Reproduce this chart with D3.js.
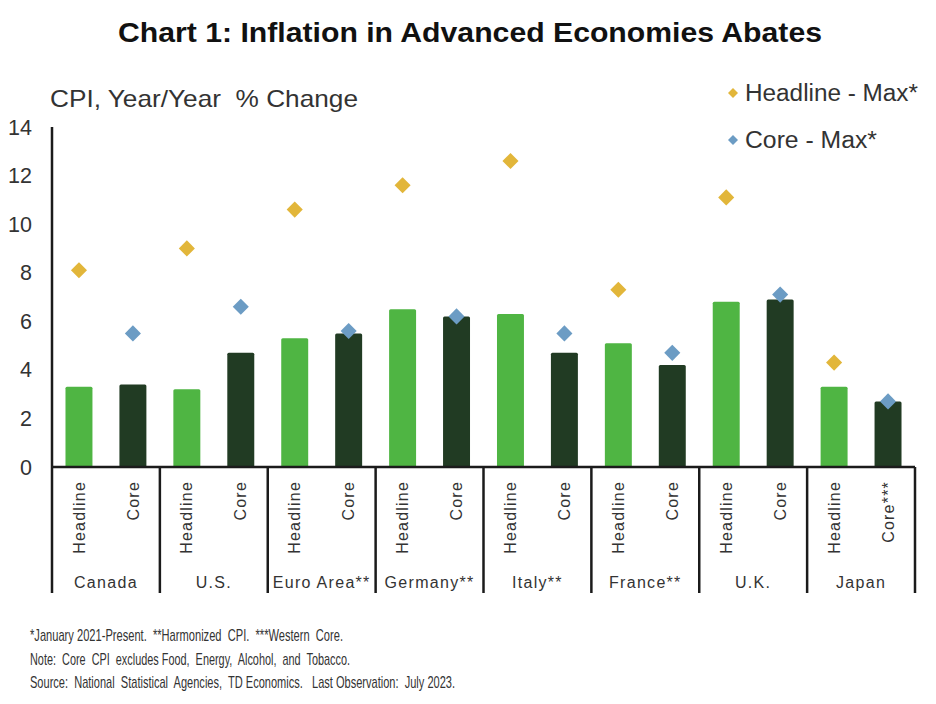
<!DOCTYPE html>
<html><head><meta charset="utf-8">
<script src="https://cdn.jsdelivr.net/npm/d3@7"></script>
<style>body{margin:0;background:#fff}svg{display:block}text{white-space:pre}</style>
</head><body>
<svg id="c" width="936" height="704"></svg>
<script>
const countries = ["Canada","U.S.","Euro Area**","Germany**","Italy**","France**","U.K.","Japan"];
const seriesTypes = ["Headline","Core"];
const coreLabels = ["Core","Core","Core","Core","Core","Core","Core","Core***"];
const headline = [3.3,3.2,5.3,6.5,6.3,5.1,6.8,3.3];
const core = [3.4,4.7,5.5,6.2,4.7,4.2,6.9,2.7];
const headlineMax = [8.1,9.0,10.6,11.6,12.6,7.3,11.1,4.3];
const coreMax = [5.5,6.6,5.6,6.2,5.5,4.7,7.1,2.7];
const yTicks = [0,2,4,6,8,10,12,14];
const legendLabels = ["Headline - Max*","Core - Max*"];
const footnotes = [
  "*January 2021-Present.  **Harmonized  CPI.  ***Western  Core.",
  "Note:  Core  CPI  excludes Food,  Energy,  Alcohol,  and  Tobacco.",
  "Source:  National  Statistical  Agencies,  TD Economics.   Last Observation:  July 2023."
];

const C = {light:"#4fb543", dark:"#213b23", gold:"#e2b63a", blue:"#6c9cc4", axis:"#1b1b1b", text:"#333"};
const svg = d3.select("#c");
const font = "'Liberation Sans', Arial, sans-serif";

const x0 = d3.scaleBand().domain(countries).range([52,915]).padding(0);
const x1 = d3.scaleBand().domain(seriesTypes).range([0,x0.bandwidth()]).paddingInner(0.5).paddingOuter(0.25);
const y = d3.scaleLinear().domain([0,14]).range([467,127]);

// title
svg.append("text").attr("x",118).attr("y",42).attr("font-family",font)
  .attr("font-weight","bold").attr("font-size",28).attr("fill","#111")
  .attr("textLength",704).attr("lengthAdjust","spacingAndGlyphs")
  .text("Chart 1: Inflation in Advanced Economies Abates");

// y label
svg.append("text").attr("x",50).attr("y",107).attr("font-family",font).attr("font-size",24).attr("fill",C.text)
  .attr("textLength",308).attr("lengthAdjust","spacingAndGlyphs").text("CPI, Year/Year  % Change");

// y ticks
svg.append("g").selectAll("text").data(yTicks).join("text")
  .attr("x",32).attr("y",d=>y(d)).attr("dy","0.35em").attr("text-anchor","end")
  .attr("font-family",font).attr("font-size",21.5).attr("fill",C.text).text(d=>d);

// bars
const rows = countries.map((c,i)=>({c, vals:[{k:"Headline",v:headline[i],m:headlineMax[i]},{k:"Core",v:core[i],m:coreMax[i]}]}));
const g = svg.append("g");
const grp = g.selectAll("g").data(rows).join("g").attr("transform",d=>`translate(${x0(d.c)},0)`);
grp.selectAll("rect").data(d=>d.vals).join("rect")
  .attr("x",d=>x1(d.k)).attr("width",x1.bandwidth())
  .attr("y",d=>y(d.v)).attr("height",d=>y(0)-y(d.v)).attr("rx",1.5)
  .attr("fill",d=>d.k==="Headline"?C.light:C.dark);

// axes lines
svg.append("line").attr("x1",52).attr("x2",52).attr("y1",127).attr("y2",593).attr("stroke",C.axis).attr("stroke-width",2.5);
svg.append("line").attr("x1",52).attr("x2",915).attr("y1",y(0)).attr("y2",y(0)).attr("stroke",C.axis).attr("stroke-width",2.5);
svg.append("g").selectAll("line").data(countries.slice(1).map(c=>x0(c)).concat([x0.range()[1]])).join("line")
  .attr("x1",d=>d).attr("x2",d=>d).attr("y1",y(0)).attr("y2",593).attr("stroke",C.axis).attr("stroke-width",2.5);

// diamonds
const diamond = d3.symbol(d3.symbolSquare, 130);
grp.selectAll("path").data(d=>d.vals).join("path")
  .attr("d",diamond)
  .attr("transform",d=>`translate(${x1(d.k)+x1.bandwidth()/2},${y(d.m)}) rotate(45)`)
  .attr("fill",d=>d.k==="Headline"?C.gold:C.blue);

// sub labels
grp.selectAll("text.sub").data((d,i)=>[{k:"Headline",t:"Headline"},{k:"Core",t:coreLabels[i]}]).join("text")
  .attr("class","sub")
  .attr("transform",d=>`translate(${x1(d.k)+x1.bandwidth()/2},481) rotate(-90)`)
  .attr("dy","0.35em").attr("text-anchor","end")
  .attr("font-family",font).attr("font-size",16).attr("letter-spacing",1.2).attr("fill",C.text).text(d=>d.t);

// country labels
grp.append("text").attr("x",x0.bandwidth()/2).attr("y",588).attr("text-anchor","middle")
  .attr("font-family",font).attr("font-size",16).attr("letter-spacing",1.3).attr("fill",C.text).text(d=>d.c);

// legend
const leg = svg.append("g").selectAll("g").data(legendLabels).join("g")
  .attr("transform",(d,i)=>`translate(733,${93+i*47})`);
leg.append("path").attr("d",d3.symbol(d3.symbolSquare,50)).attr("transform","rotate(45)")
  .attr("fill",(d,i)=>i===0?C.gold:C.blue);
leg.append("text").attr("x",12).attr("y",8).attr("font-family",font).attr("font-size",23).attr("fill",C.text)
  .attr("textLength",(d,i)=>i===0?173:132).attr("lengthAdjust","spacingAndGlyphs").text(d=>d);

// footnotes
svg.append("g").selectAll("text").data(footnotes).join("text")
  .attr("x",30).attr("y",(d,i)=>641+i*23.7).attr("font-family","'Liberation Sans Narrow','Arial Narrow',"+font)
  .attr("font-size",17).attr("fill","#333")
  .attr("textLength",(d,i)=>[313,320,425][i]).attr("lengthAdjust","spacingAndGlyphs").text(d=>d);
</script>
</body></html>
